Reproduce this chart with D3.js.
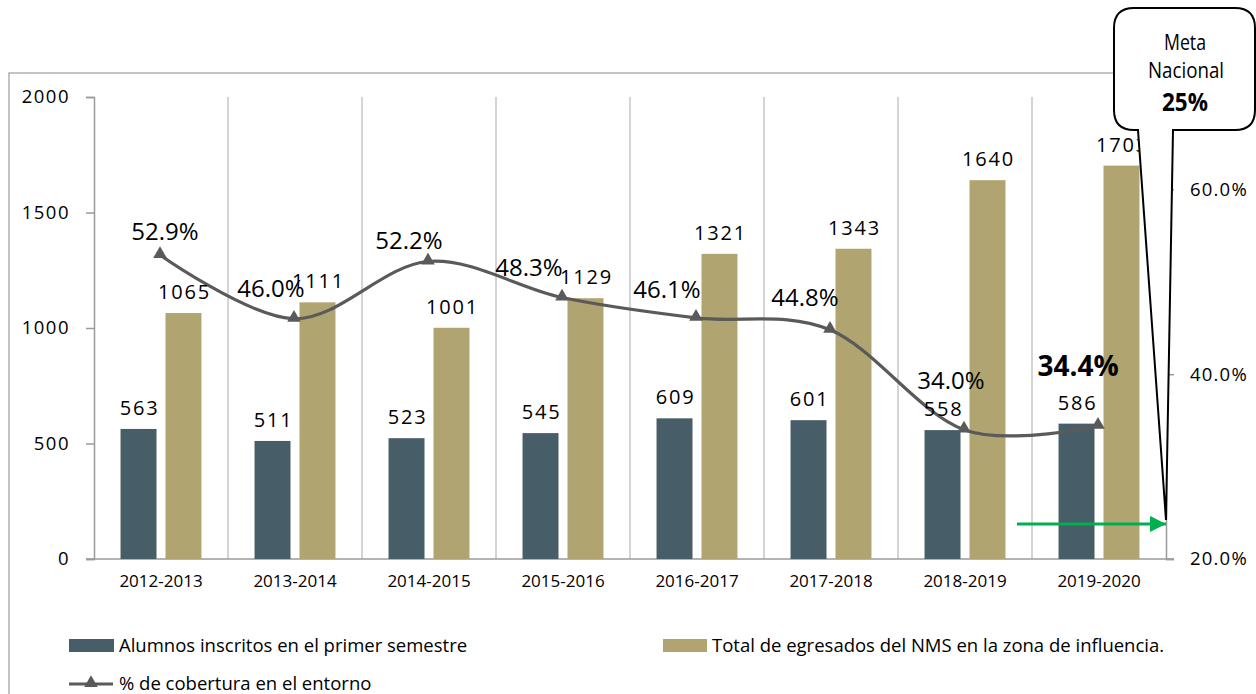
<!DOCTYPE html>
<html>
<head>
<meta charset="utf-8">
<script src="https://cdn.jsdelivr.net/npm/d3@7"></script>
<style>
  html, body { margin: 0; padding: 0; background: #ffffff; }
  svg { display: block; }
  text { font-family: "Open Sans", sans-serif; fill: #000; }
</style>
</head>
<body>
<svg id="chart" width="1256" height="694"></svg>
<script>
// ---- data ----
const categories = ["2012-2013","2013-2014","2014-2015","2015-2016","2016-2017","2017-2018","2018-2019","2019-2020"];
const inscritos = [563, 511, 523, 545, 609, 601, 558, 586];
const egresados = [1065, 1111, 1001, 1129, 1321, 1343, 1640, 1703];
const cobertura = [0.529, 0.460, 0.522, 0.483, 0.461, 0.448, 0.340, 0.344];
const leftTicks = [0, 500, 1000, 1500, 2000];
const rightTicks = [0.2, 0.4, 0.6];
const seriesNames = ["Alumnos inscritos en el primer semestre", "Total de egresados del NMS en la zona de influencia.", "% de cobertura en el entorno"];
const metaLines = ["Meta", "Nacional", "25%"];

// ---- layout / style ----
const colDark = "#475e68", colTan = "#b0a470", colLine = "#5a5a5a";
// label offsets (dx, dy) for percentage labels relative to points
const pctOffsets = [[5,-23],[-23,-30],[-19,-21],[-33,-30],[-29,-28],[-25,-32],[-13,-49],[-20,-60]];

const svg = d3.select("#chart");
const plot = {left: 94, right: 1166, top: 97, bottom: 559};

const x = d3.scaleBand().domain(categories).range([plot.left, plot.right]);
const x1 = d3.scaleBand().domain(["a","b"]).range([0, x.bandwidth()]).paddingInner(0.2).paddingOuter(0.59);
const yL = d3.scaleLinear().domain([0, 2000]).range([plot.bottom, plot.top]);
const yR = d3.scaleLinear().domain([0.2, 0.7]).range([plot.bottom, plot.top]);

// outer border
svg.append("rect").attr("x", 9).attr("y", 73).attr("width", 1300).attr("height", 700)
  .attr("fill", "none").attr("stroke", "#a6a6a6").attr("stroke-width", 1.3);

// vertical gridlines at category boundaries
const bounds = categories.map(c => x(c)).slice(1);
svg.append("g").selectAll("line").data(bounds).join("line")
  .attr("x1", d => d).attr("x2", d => d).attr("y1", plot.top).attr("y2", plot.bottom)
  .attr("stroke", "#c6c6c6").attr("stroke-width", 1.5);

// left axis
const gL = svg.append("g").attr("transform", `translate(${plot.left},0)`)
  .call(d3.axisLeft(yL).tickValues(leftTicks).tickSize(8).tickPadding(16).tickFormat(d3.format("d")));
gL.select(".domain").attr("stroke", "#9a9a9a").attr("stroke-width", 1.5);
gL.selectAll(".tick line").attr("stroke", "#9a9a9a").attr("stroke-width", 1.5);
gL.selectAll(".tick text").attr("font-size", 18.5).attr("letter-spacing", 1.5).attr("font-family", "Open Sans").attr("fill", "#000");

// right axis
const gR = svg.append("g").attr("transform", `translate(${plot.right},0)`)
  .call(d3.axisRight(yR).tickValues(rightTicks).tickSize(8).tickPadding(16).tickFormat(d3.format(".1%")));
gR.select(".domain").attr("stroke", "#9a9a9a").attr("stroke-width", 1.5);
gR.selectAll(".tick line").attr("stroke", "#9a9a9a").attr("stroke-width", 1.5);
gR.selectAll(".tick text").attr("font-size", 18.5).attr("letter-spacing", 1.2).attr("font-family", "Open Sans").attr("fill", "#000");

// x axis
const gX = svg.append("g").attr("transform", `translate(0,${plot.bottom})`)
  .call(d3.axisBottom(x).tickSize(0).tickPadding(16));
gX.select(".domain").attr("d", `M${plot.left - 8},0H${plot.right + 8}`).attr("stroke", "#9a9a9a").attr("stroke-width", 1.5);
gX.selectAll(".tick text").attr("font-size", 17).attr("font-family", "Open Sans").attr("fill", "#000");

// bars
const gB = svg.append("g");
gB.selectAll("rect.dark").data(inscritos).join("rect").attr("class", "dark")
  .attr("x", (d, i) => x(categories[i]) + x1("a")).attr("width", x1.bandwidth())
  .attr("y", d => yL(d)).attr("height", d => yL(0) - yL(d)).attr("fill", colDark);
gB.selectAll("rect.tan").data(egresados).join("rect").attr("class", "tan")
  .attr("x", (d, i) => x(categories[i]) + x1("b")).attr("width", x1.bandwidth())
  .attr("y", d => yL(d)).attr("height", d => yL(0) - yL(d)).attr("fill", colTan);

// line
const cx = i => x(categories[i]) + x.bandwidth() / 2 - 1;
const line = d3.line().x((d, i) => cx(i)).y(d => yR(d)).curve(d3.curveCardinal.tension(0));
svg.append("path").datum(cobertura).attr("d", line)
  .attr("fill", "none").attr("stroke", colLine).attr("stroke-width", 3.2);
const tri = d3.symbol().type(d3.symbolTriangle).size(80);
svg.append("g").selectAll("path").data(cobertura).join("path")
  .attr("d", tri).attr("transform", (d, i) => `translate(${cx(i)},${yR(d) - 1})`).attr("fill", colLine);

// bar labels
svg.append("g").selectAll("text").data(inscritos).join("text")
  .attr("x", (d, i) => x(categories[i]) + x1("a") + x1.bandwidth() / 2 + 1)
  .attr("y", d => yL(d) - 21).attr("dy", "0.35em").attr("text-anchor", "middle")
  .attr("font-size", 20).attr("letter-spacing", 1.8).text(d => d);
svg.append("g").selectAll("text").data(egresados).join("text")
  .attr("x", (d, i) => x(categories[i]) + x1("b") + x1.bandwidth() / 2 + 1)
  .attr("y", d => yL(d) - 21).attr("dy", "0.35em").attr("text-anchor", "middle")
  .attr("font-size", 20).attr("letter-spacing", 1.8).text(d => d);

// percentage labels
svg.append("g").selectAll("text").data(cobertura).join("text")
  .attr("x", (d, i) => cx(i) + pctOffsets[i][0])
  .attr("y", (d, i) => yR(d) + pctOffsets[i][1]).attr("dy", "0.35em").attr("text-anchor", "middle")
  .attr("font-size", (d, i) => i === cobertura.length - 1 ? 28 : 24)
  .attr("font-weight", (d, i) => i === cobertura.length - 1 ? "bold" : "normal")
  .text(d => d3.format(".1%")(d));

// green arrow
const defs = svg.append("defs");
defs.append("marker").attr("id", "gArrow").attr("viewBox", "0 0 10 10").attr("refX", 10).attr("refY", 5)
  .attr("markerWidth", 5.5).attr("markerHeight", 5.5).attr("markerUnits", "strokeWidth").attr("orient", "auto")
  .append("path").attr("d", "M0,0L10,5L0,10Z").attr("fill", "#00b050");
const arrowY = yR(0.238);
svg.append("line").attr("x1", 1017).attr("x2", plot.right).attr("y1", arrowY).attr("y2", arrowY)
  .attr("stroke", "#00b050").attr("stroke-width", 3).attr("marker-end", "url(#gArrow)");

// callout
const cL = 1114, cR = 1255, cT = 8, cB = 130, r = 20;
const tipX = plot.right, tipY = arrowY - 4;
const callout = `M${cL + r},${cT}H${cR - r}Q${cR},${cT} ${cR},${cT + r}V${cB - r}Q${cR},${cB} ${cR - r},${cB}` +
  `H1173L${tipX},${tipY}L1138,${cB}H${cL + r}Q${cL},${cB} ${cL},${cB - r}V${cT + r}Q${cL},${cT} ${cL + r},${cT}Z`;
svg.append("path").attr("d", callout).attr("fill", "#fff").attr("stroke", "#000").attr("stroke-width", 2);
const cg = svg.append("g");
cg.append("text").attr("x", 1185).attr("y", 42).attr("dy", "0.35em").attr("text-anchor", "middle")
  .attr("font-family", "Liberation Sans").attr("font-size", 22).attr("textLength", 42).attr("lengthAdjust", "spacingAndGlyphs").text(metaLines[0]);
cg.append("text").attr("x", 1186).attr("y", 70).attr("dy", "0.35em").attr("text-anchor", "middle")
  .attr("font-family", "Liberation Sans").attr("font-size", 22).attr("textLength", 76).attr("lengthAdjust", "spacingAndGlyphs").text(metaLines[1]);
cg.append("text").attr("x", 1185).attr("y", 102).attr("dy", "0.35em").attr("text-anchor", "middle")
  .attr("font-family", "Liberation Sans").attr("font-weight", "bold").attr("font-size", 25).attr("textLength", 46).attr("lengthAdjust", "spacingAndGlyphs").text(metaLines[2]);

// legend
const lg = svg.append("g");
lg.append("rect").attr("x", 69).attr("y", 639).attr("width", 45).attr("height", 13).attr("fill", colDark);
lg.append("text").attr("x", 119).attr("y", 646).attr("dy", "0.35em").attr("font-size", 18.5).text(seriesNames[0]);
lg.append("rect").attr("x", 663).attr("y", 639).attr("width", 44).attr("height", 13).attr("fill", colTan);
lg.append("text").attr("x", 712).attr("y", 646).attr("dy", "0.35em").attr("font-size", 18.5).text(seriesNames[1]);
lg.append("line").attr("x1", 69).attr("x2", 113).attr("y1", 684).attr("y2", 684).attr("stroke", colLine).attr("stroke-width", 3.2);
lg.append("path").attr("d", tri).attr("transform", "translate(91,683)").attr("fill", colLine);
lg.append("text").attr("x", 119).attr("y", 684).attr("dy", "0.35em").attr("font-size", 18.5).text(seriesNames[2]);
</script>
</body>
</html>
